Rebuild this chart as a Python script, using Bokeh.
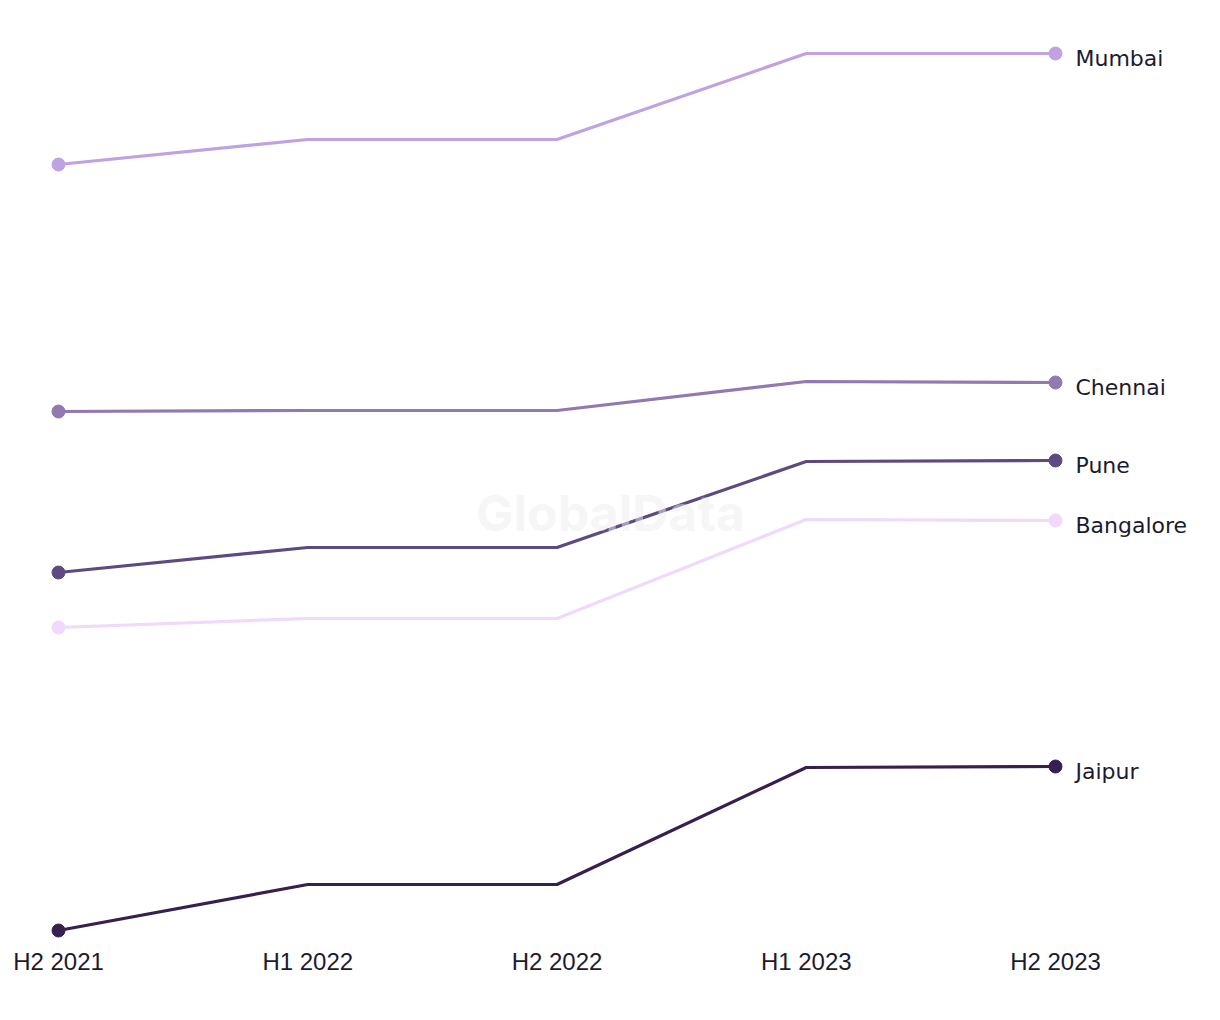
from bokeh.plotting import figure
from bokeh.models import Range1d, FixedTicker, Label
from bokeh.embed import file_html
from bokeh.resources import INLINE

periods = ["H2 2021", "H1 2022", "H2 2022", "H1 2023", "H2 2023"]
cities = ["Mumbai", "Chennai", "Pune", "Bangalore", "Jaipur"]
mumbai = [78.6, 81.1, 81.1, 89.7, 89.7]
chennai = [53.9, 54.0, 54.0, 56.9, 56.8]
pune = [37.8, 40.3, 40.3, 48.9, 49.0]
bangalore = [32.3, 33.2, 33.2, 43.1, 43.0]
jaipur = [2.0, 6.6, 6.6, 18.3, 18.4]
series = [mumbai, chennai, pune, bangalore, jaipur]
colors = ["#bea2e2", "#9179b1", "#5d4a82", "#f0d9fb", "#36204f"]

LABEL_FONT = "DejaVu Sans"
TICK_FONT = "Liberation Sans"
TEXT_COLOR = "#1c1b2e"

xs = list(range(len(periods)))

p = figure(width=1212, height=1000, output_backend="svg", toolbar_location=None,
           x_range=Range1d(-0.2327, 4.6299), y_range=Range1d(1, 95),
           min_border_left=0, min_border_top=0, min_border_right=0, min_border_bottom=0)
p.frame_width = 1212
p.frame_height = 940
p.outline_line_color = None
p.xgrid.visible = False
p.ygrid.visible = False
p.yaxis.visible = False
p.background_fill_color = "white"
p.border_fill_color = "white"

for name, ys, c in zip(cities, series, colors):
    p.line(xs, ys, line_color=c, line_width=3.2)
    p.scatter([xs[0], xs[-1]], [ys[0], ys[-1]], size=13, fill_color=c, line_color=c)
    p.add_layout(Label(x=xs[-1], y=ys[-1], text=name, x_offset=20, y_offset=-5,
                       text_baseline="middle", text_font=LABEL_FONT, text_font_size="22px",
                       text_color=TEXT_COLOR))

ax = p.xaxis[0]
ax.ticker = FixedTicker(ticks=xs)
ax.major_label_overrides = {i: s for i, s in enumerate(periods)}
ax.axis_line_color = None
ax.major_tick_line_color = None
ax.minor_tick_line_color = None
ax.major_label_text_font = TICK_FONT
ax.major_label_text_font_size = "24px"
ax.major_label_text_color = TEXT_COLOR
ax.major_label_standoff = 1

p.add_layout(Label(x=610, y=428, x_units="screen", y_units="screen", text="GlobalData",
                   text_align="center", text_baseline="middle", text_font="Inter",
                   text_font_size="50px", text_font_style="bold",
                   text_color="#eeeeee", text_alpha=0.5))

open("out.html", "w").write(file_html(p, INLINE))
